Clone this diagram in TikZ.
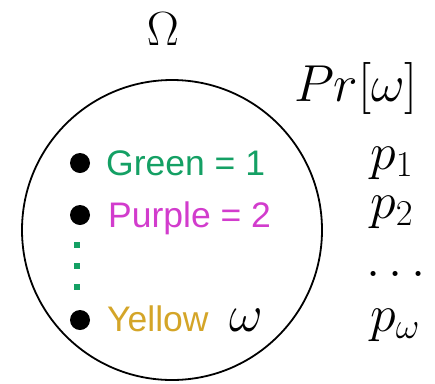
\RequirePackage{fix-cm}
\documentclass[tikz,border=0pt]{standalone}
\usepackage{fontspec}
\setsansfont{Liberation Sans}
\definecolor{itemgreen}{RGB}{20,160,100}
\definecolor{itempurple}{RGB}{210,60,205}
\definecolor{itemyellow}{RGB}{212,165,40}
\begin{document}
\begin{tikzpicture}[x=1pt,y=-1pt,
  mathlabel/.style={inner sep=0pt,font=\fontsize{52}{60}\selectfont},
  itemlabel/.style={inner sep=0pt,anchor=base west,font=\sffamily\fontsize{35.5}{42}\selectfont},
  bulletdot/.style={circle,fill=black,inner sep=0pt,minimum size=20pt},
  gapdot/.style={fill=itemgreen,inner sep=0pt,minimum size=6pt}]
  \useasboundingbox (0,0) rectangle (435,383);
  % sample space
  \node[circle,draw,line width=1.8pt,minimum size=300pt,inner sep=0pt] (space) at (172,230) {};
  \node[mathlabel,font=\fontsize{48}{56}\selectfont] (omega) at (163,29) {$\Omega$};
  \node[mathlabel] (prob) at (356,88) {$Pr[\omega]$};
  % outcomes
  \node[bulletdot] (b1) at (80,163) {};
  \node[itemlabel,text=itemgreen] (green) at (106,175) {Green = 1};
  \node[bulletdot] (b2) at (80,215) {};
  \node[itemlabel,text=itempurple] (purple) at (108,227) {Purple = 2};
  \node[gapdot] (g1) at (77,245) {};
  \node[gapdot] (g2) at (77,266) {};
  \node[gapdot] (g3) at (77,287) {};
  \node[bulletdot] (b3) at (80,320) {};
  \node[itemlabel,text=itemyellow] (yellow) at (107,331) {Yellow};
  \node[mathlabel,anchor=base west] (w) at (229,331) {$\omega$};
  % probabilities
  \node[mathlabel,anchor=base west] (p1) at (370,169) {$p_1$};
  \node[mathlabel,anchor=base west] (p2) at (370,218) {$p_2$};
  \node[mathlabel,anchor=base west] (pd) at (366,276) {$\ldots$};
  \node[mathlabel,anchor=base west] (pw) at (370,331) {$p_\omega$};
\end{tikzpicture}
\end{document}
